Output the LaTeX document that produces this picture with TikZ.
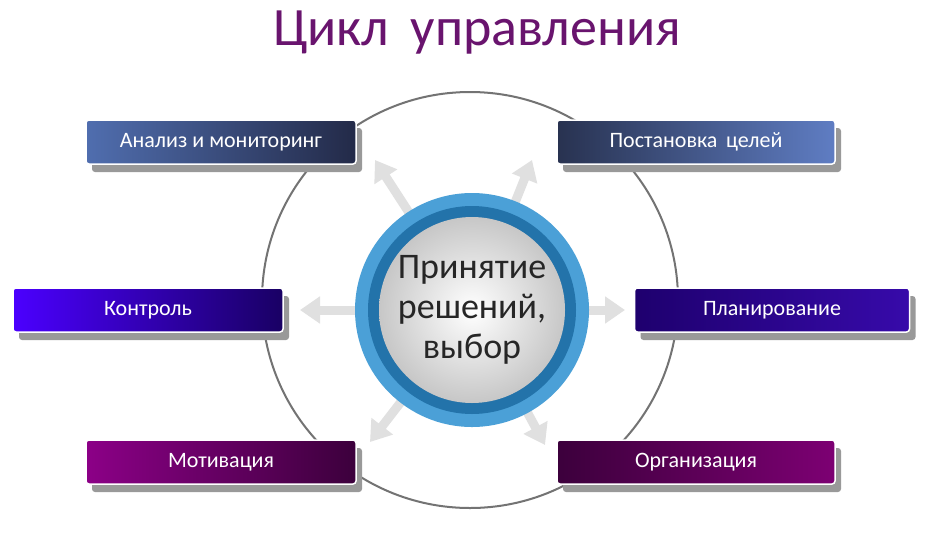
\documentclass[tikz,border=0pt]{standalone}
\usepackage{fontspec}
\setmainfont{Carlito}
\usetikzlibrary{arrows.meta,shadows}
\definecolor{ringout}{RGB}{75,160,215}
\definecolor{ringin}{RGB}{35,115,170}
\definecolor{titlec}{RGB}{105,20,110}
\begin{document}
\begin{tikzpicture}[x=1pt,y=-1pt,
  box/.style={rounded corners=3pt,minimum width=270pt,minimum height=44pt,text=white,font=\fontsize{22}{24}\selectfont,draw=white,line width=1.5pt,
    drop shadow={shadow xshift=6pt,shadow yshift=-8pt,fill=gray!80,opacity=1}},
  arr/.style={draw=black!12,line width=9pt,-{Triangle[length=20pt,width=26pt]}}]
\useasboundingbox (0,0) rectangle (950,542);
\fill[white] (0,0) rectangle (950,542);
\node[text=titlec,font=\fontsize{54}{58}\selectfont] (title) at (477,33) {Цикл\, управления};
\draw[black!55,line width=2pt] (470,300) circle[radius=208];
\coordinate (c) at (472,310);
\coordinate (ul) at (375,160);\coordinate (ur) at (532,160);
\coordinate (l) at (300,310);\coordinate (r) at (625,310);
\coordinate (dl) at (370,442);\coordinate (dr) at (545,445);
\foreach \t in {ul,ur,l,r,dl,dr} \draw[arr] (c) -- (\t);
\fill[ringout] (c) circle[radius=117];
\fill[ringin] (c) circle[radius=104];
\shade[inner color=white,outer color=black!22] (c) circle[radius=93];
\node[font=\fontsize{36}{40}\selectfont,align=center,text=black!85] (center) at (c) {Принятие\\решений,\\выбор};
\node[box,left color={rgb,255:red,80;green,110;blue,175},right color={rgb,255:red,35;green,42;blue,72}] (a) at (221,142) {Анализ и мониторинг};
\node[box,left color={rgb,255:red,40;green,50;blue,80},right color={rgb,255:red,95;green,125;blue,195},minimum width=278pt] (p) at (696,142) {Постановка\, целей};
\node[box,left color={rgb,255:red,75;green,0;blue,255},right color={rgb,255:red,25;green,0;blue,100}] (k) at (148,310) {Контроль};
\node[box,left color={rgb,255:red,30;green,0;blue,110},right color={rgb,255:red,55;green,10;blue,170},minimum width=275pt] (pl) at (772,310) {Планирование};
\node[box,left color={rgb,255:red,140;green,0;blue,135},right color={rgb,255:red,60;green,0;blue,60}] (m) at (221,462) {Мотивация};
\node[box,left color={rgb,255:red,60;green,0;blue,60},right color={rgb,255:red,125;green,0;blue,115},minimum width=278pt] (o) at (696,462) {Организация};
\end{tikzpicture}
\end{document}
